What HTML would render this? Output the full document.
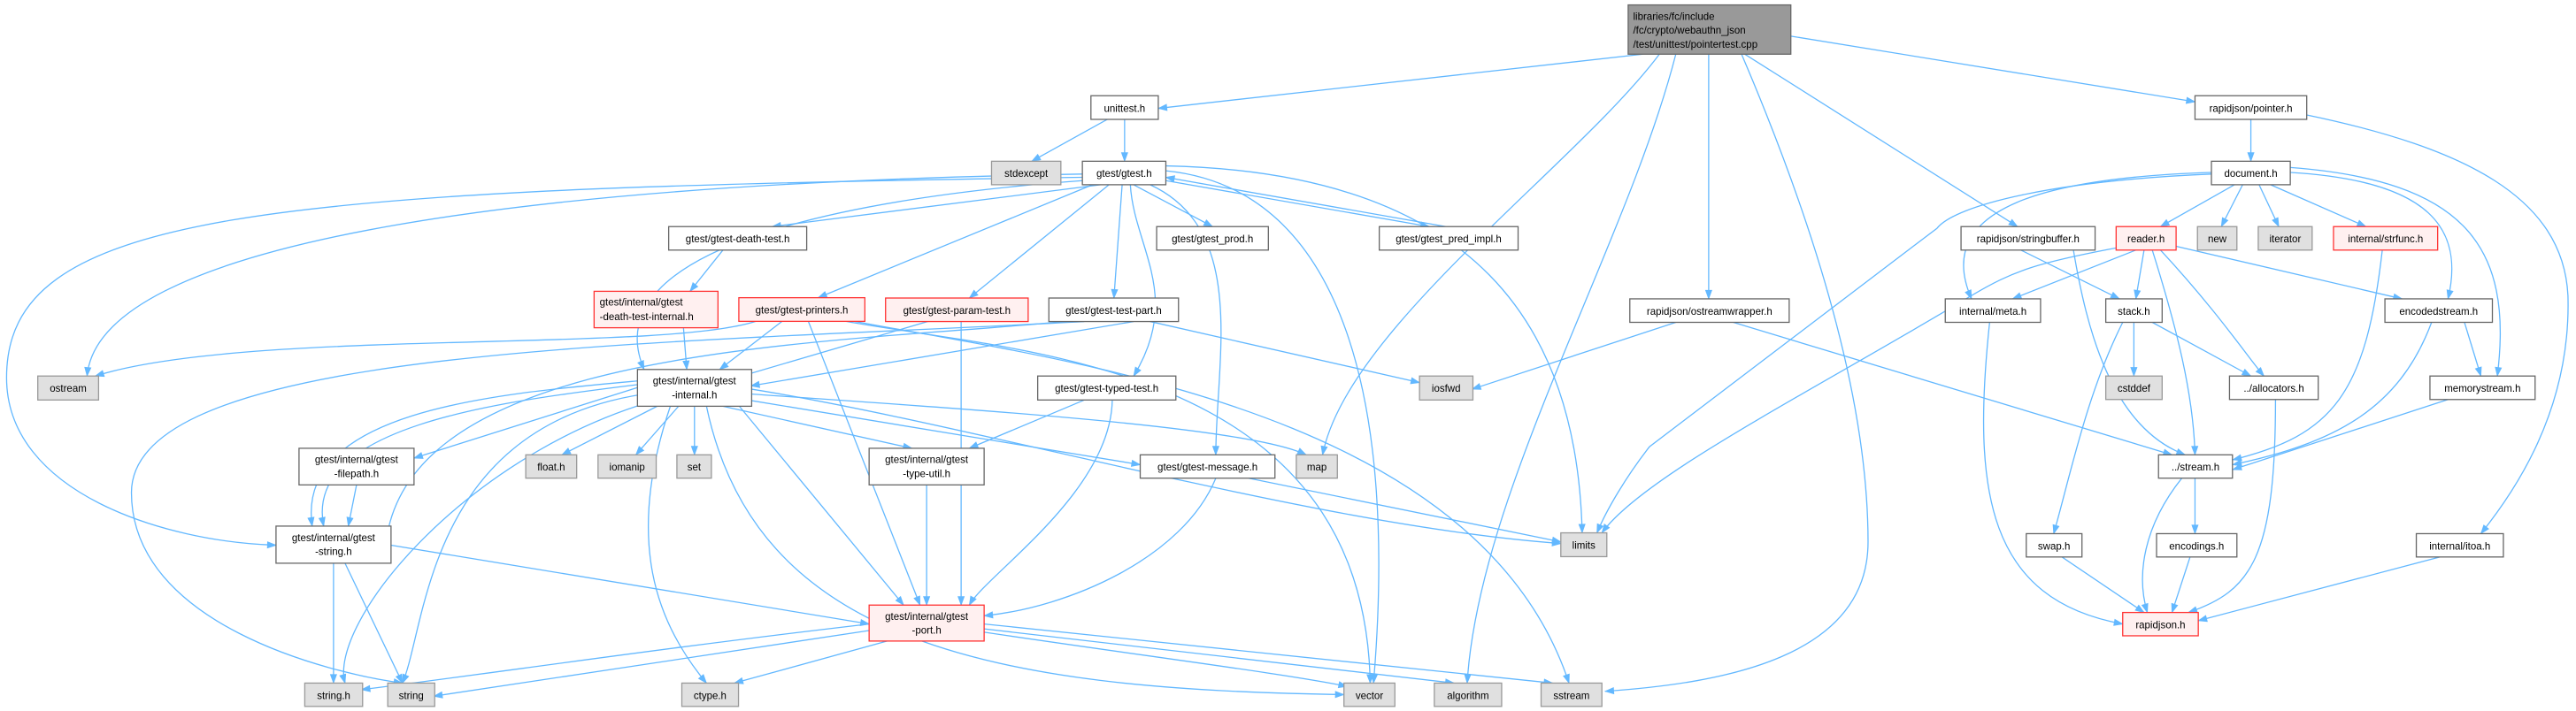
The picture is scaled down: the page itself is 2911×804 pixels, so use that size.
<!DOCTYPE html>
<html><head><meta charset="utf-8">
<style>
html,body{margin:0;padding:0;background:#fff;}
svg{display:block;}
text{font-family:"Liberation Sans",Arial,sans-serif;font-size:6.2px;fill:#000;}
</style></head>
<body>
<svg id="g" width="2911" height="804" viewBox="0 0 1567.9 433" preserveAspectRatio="none" xmlns="http://www.w3.org/2000/svg">
<g id="edges" fill="none" stroke="#63b8ff" stroke-width="0.7"></g>
<g id="arrows" fill="#63b8ff" stroke="#63b8ff" stroke-width="0.4"></g>
<g id="nodes" stroke-width="0.7">
<rect x="991" y="3" width="99" height="30" fill="#999" stroke="#666"/>
<text x="994" y="12">libraries/fc/include</text><text x="994" y="20.5">/fc/crypto/webauthn_json</text><text x="994" y="29">/test/unittest/pointertest.cpp</text>

<rect x="664" y="58.3" width="41" height="14.4" fill="#fff" stroke="#666"/><text x="684.5" y="68" text-anchor="middle">unittest.h</text>
<rect x="1336" y="58.3" width="68" height="14.4" fill="#fff" stroke="#666"/><text x="1370" y="68" text-anchor="middle">rapidjson/pointer.h</text>
<rect x="603.5" y="98.2" width="42.2" height="14.3" fill="#e0e0e0" stroke="#999"/><text x="624.6" y="107.8" text-anchor="middle">stdexcept</text>
<rect x="658.8" y="98.2" width="50.8" height="14.3" fill="#fff" stroke="#666"/><text x="684.2" y="107.8" text-anchor="middle">gtest/gtest.h</text>
<rect x="1346" y="98.2" width="48" height="14.3" fill="#fff" stroke="#666"/><text x="1370" y="107.8" text-anchor="middle">document.h</text>

<rect x="407" y="138" width="84" height="14.3" fill="#fff" stroke="#666"/><text x="449" y="147.6" text-anchor="middle">gtest/gtest-death-test.h</text>
<rect x="704" y="138" width="68" height="14.3" fill="#fff" stroke="#666"/><text x="738" y="147.6" text-anchor="middle">gtest/gtest_prod.h</text>
<rect x="839.5" y="138" width="84.5" height="14.3" fill="#fff" stroke="#666"/><text x="881.7" y="147.6" text-anchor="middle">gtest/gtest_pred_impl.h</text>
<rect x="1193.6" y="138" width="81.6" height="14.3" fill="#fff" stroke="#666"/><text x="1234.4" y="147.6" text-anchor="middle">rapidjson/stringbuffer.h</text>
<rect x="1288" y="138" width="36.5" height="14.3" fill="#fff0f0" stroke="#f33"/><text x="1306.2" y="147.6" text-anchor="middle">reader.h</text>
<rect x="1337.5" y="138" width="24" height="14.3" fill="#e0e0e0" stroke="#999"/><text x="1349.5" y="147.6" text-anchor="middle">new</text>
<rect x="1374.5" y="138" width="32.8" height="14.3" fill="#e0e0e0" stroke="#999"/><text x="1390.9" y="147.6" text-anchor="middle">iterator</text>
<rect x="1420.3" y="138" width="63.4" height="14.3" fill="#fff0f0" stroke="#f33"/><text x="1452" y="147.6" text-anchor="middle">internal/strfunc.h</text>

<rect x="361.6" y="177.4" width="75.4" height="22.2" fill="#fff0f0" stroke="#f33"/><text x="365" y="186.2">gtest/internal/gtest</text><text x="365" y="195">-death-test-internal.h</text>
<rect x="449.7" y="181.3" width="76.7" height="14.4" fill="#fff0f0" stroke="#f33"/><text x="488" y="190.9" text-anchor="middle">gtest/gtest-printers.h</text>
<rect x="539" y="181.5" width="86.8" height="14.3" fill="#fff0f0" stroke="#f33"/><text x="582.4" y="191.1" text-anchor="middle">gtest/gtest-param-test.h</text>
<rect x="638.4" y="181.5" width="78.9" height="14.3" fill="#fff" stroke="#666"/><text x="677.8" y="191.1" text-anchor="middle">gtest/gtest-test-part.h</text>
<rect x="992" y="182" width="97" height="14.3" fill="#fff" stroke="#666"/><text x="1040.5" y="191.6" text-anchor="middle">rapidjson/ostreamwrapper.h</text>
<rect x="1184" y="182" width="58" height="14.3" fill="#fff" stroke="#666"/><text x="1213" y="191.6" text-anchor="middle">internal/meta.h</text>
<rect x="1281.7" y="182" width="34.3" height="14.3" fill="#fff" stroke="#666"/><text x="1298.8" y="191.6" text-anchor="middle">stack.h</text>
<rect x="1451.6" y="182" width="65.4" height="14.3" fill="#fff" stroke="#666"/><text x="1484.3" y="191.6" text-anchor="middle">encodedstream.h</text>

<rect x="23" y="229" width="37" height="14.6" fill="#e0e0e0" stroke="#999"/><text x="41.5" y="238.7" text-anchor="middle">ostream</text>
<rect x="388" y="225" width="69.5" height="22.4" fill="#fff" stroke="#666"/><text x="422.7" y="234" text-anchor="middle">gtest/internal/gtest</text><text x="422.7" y="242.5" text-anchor="middle">-internal.h</text>
<rect x="631.6" y="229" width="84.1" height="14.6" fill="#fff" stroke="#666"/><text x="673.6" y="238.7" text-anchor="middle">gtest/gtest-typed-test.h</text>
<rect x="864" y="229" width="32.5" height="14.6" fill="#e0e0e0" stroke="#999"/><text x="880.2" y="238.7" text-anchor="middle">iosfwd</text>
<rect x="1281.7" y="229" width="34.3" height="14.3" fill="#e0e0e0" stroke="#999"/><text x="1298.8" y="238.6" text-anchor="middle">cstddef</text>
<rect x="1357" y="229" width="54" height="14.3" fill="#fff" stroke="#666"/><text x="1384" y="238.6" text-anchor="middle">../allocators.h</text>
<rect x="1479" y="229" width="64" height="14.3" fill="#fff" stroke="#666"/><text x="1511" y="238.6" text-anchor="middle">memorystream.h</text>

<rect x="182" y="273" width="70" height="22.3" fill="#fff" stroke="#666"/><text x="217" y="282" text-anchor="middle">gtest/internal/gtest</text><text x="217" y="290.5" text-anchor="middle">-filepath.h</text>
<rect x="320" y="277" width="31" height="14.2" fill="#e0e0e0" stroke="#999"/><text x="335.5" y="286.6" text-anchor="middle">float.h</text>
<rect x="364" y="277" width="35.4" height="14.2" fill="#e0e0e0" stroke="#999"/><text x="381.7" y="286.6" text-anchor="middle">iomanip</text>
<rect x="412" y="277" width="21" height="14.2" fill="#e0e0e0" stroke="#999"/><text x="422.5" y="286.6" text-anchor="middle">set</text>
<rect x="529" y="273" width="70" height="22.3" fill="#fff" stroke="#666"/><text x="564" y="282" text-anchor="middle">gtest/internal/gtest</text><text x="564" y="290.5" text-anchor="middle">-type-util.h</text>
<rect x="694" y="277" width="82" height="14.2" fill="#fff" stroke="#666"/><text x="735" y="286.6" text-anchor="middle">gtest/gtest-message.h</text>
<rect x="789" y="277" width="25" height="14.2" fill="#e0e0e0" stroke="#999"/><text x="801.5" y="286.6" text-anchor="middle">map</text>
<rect x="1313.8" y="277" width="45" height="14.2" fill="#fff" stroke="#666"/><text x="1336.3" y="286.6" text-anchor="middle">../stream.h</text>

<rect x="168" y="320.4" width="70" height="22.6" fill="#fff" stroke="#666"/><text x="203" y="329.5" text-anchor="middle">gtest/internal/gtest</text><text x="203" y="338" text-anchor="middle">-string.h</text>
<rect x="950" y="324.5" width="28" height="14.5" fill="#e0e0e0" stroke="#999"/><text x="964" y="334.1" text-anchor="middle">limits</text>
<rect x="1233.3" y="325" width="33.9" height="14.2" fill="#fff" stroke="#666"/><text x="1250.2" y="334.6" text-anchor="middle">swap.h</text>
<rect x="1312.6" y="325" width="48.9" height="14.2" fill="#fff" stroke="#666"/><text x="1337" y="334.6" text-anchor="middle">encodings.h</text>
<rect x="1470.7" y="325" width="53" height="14.2" fill="#fff" stroke="#666"/><text x="1497.2" y="334.6" text-anchor="middle">internal/itoa.h</text>

<rect x="529" y="368.5" width="70" height="21.9" fill="#fff0f0" stroke="#f33"/><text x="564" y="377.4" text-anchor="middle">gtest/internal/gtest</text><text x="564" y="386" text-anchor="middle">-port.h</text>
<rect x="1292" y="373" width="46" height="14.2" fill="#fff0f0" stroke="#f33"/><text x="1315" y="382.6" text-anchor="middle">rapidjson.h</text>

<rect x="185.5" y="416" width="35.2" height="14.2" fill="#e0e0e0" stroke="#999"/><text x="203.1" y="425.6" text-anchor="middle">string.h</text>
<rect x="236" y="416" width="28.6" height="14.2" fill="#e0e0e0" stroke="#999"/><text x="250.3" y="425.6" text-anchor="middle">string</text>
<rect x="415" y="416" width="34.5" height="14.2" fill="#e0e0e0" stroke="#999"/><text x="432.2" y="425.6" text-anchor="middle">ctype.h</text>
<rect x="818" y="416" width="31" height="14.2" fill="#e0e0e0" stroke="#999"/><text x="833.5" y="425.6" text-anchor="middle">vector</text>
<rect x="873" y="416" width="41" height="14.2" fill="#e0e0e0" stroke="#999"/><text x="893.5" y="425.6" text-anchor="middle">algorithm</text>
<rect x="938" y="416" width="37" height="14.2" fill="#e0e0e0" stroke="#999"/><text x="956.5" y="425.6" text-anchor="middle">sstream</text>
</g>
</svg>
<script>
(function(){
var E=[
"M1000,33 L705,66",
"M1090,22 L1336,62",
"M1040,33 L1040,182",
"M1062,33 L1228,138",
"M1010,33 C960,100 820,200 805,277",
"M1020,33 C990,150 900,300 893,416",
"M1060,33 C1110,150 1137,250 1137,330 C1137,400 1050,416 977,421",
"M674,72.7 L628,98.2",
"M684.5,72.7 L684.5,98.2",
"M658.8,106 C300,112 60,150 53,229",
"M658.8,108 C150,115 4,130 4,230 C4,300 100,330 168,332",
"M659,110 C520,120 360,150 392,225",
"M670,112.5 L470,138",
"M690,112.5 L738,138",
"M709.6,110 L870,138",
"M880,138 L709.6,108",
"M665,112.5 L498,181.3",
"M675,112.5 L590,181.5",
"M683,112.5 L678,181.5",
"M688,112.5 C690,150 720,180 690,229",
"M700,112.5 C760,140 740,220 740,277",
"M709.6,104 C820,115 850,250 836,416",
"M709.6,101 C900,105 960,200 963,324.5",
"M440,152.3 L420,177.4",
"M416,199.6 L418,225",
"M460,195.7 C400,215 150,200 58,229",
"M476,195.7 L438,225",
"M492,195.7 L560,368.5",
"M515,195.7 C620,215 830,220 834,416",
"M520,195.7 C650,220 900,250 955,416",
"M565,195.7 L448,230",
"M585,195.8 L585,368.5",
"M648,195.8 C500,210 250,210 235,330",
"M660,195.8 C400,210 80,210 80,300 C80,380 200,410 245,416",
"M690,195.8 L457,235",
"M700,195.8 L864,233",
"M660,243.6 L590,273",
"M677,243.6 C676,300 600,350 590,368.5",
"M388,236 L252,279",
"M400,247.4 L342,277",
"M413,247.4 L387,277",
"M422.7,247.4 L422.7,277",
"M440,247.4 L555,273",
"M457.5,244 L694,283",
"M457.5,240 C600,250 760,260 795,277",
"M457.5,237 C600,260 800,320 950,331",
"M450,247.4 L550,368.5",
"M388,232 C300,240 180,250 190,320.4",
"M390,234 C300,245 185,260 197,320.4",
"M392,240 C260,260 260,380 245,416",
"M395,245 C280,280 200,380 210,416",
"M408,247.4 C380,330 400,380 430,416",
"M430,247.4 C460,390 600,420 818,423",
"M217,295.3 L212,320.4",
"M564,295.3 L564,368.5",
"M740,291.2 C720,340 650,370 599,375",
"M760,291.2 L950,330",
"M238,332 L529,380",
"M203,343 L203,416",
"M210,343 L245,416",
"M529,380 C400,395 300,410 220,420",
"M529,384 L264,424",
"M540,390.4 L447,416",
"M599,385 C700,400 780,410 820,418",
"M599,383 L885,416",
"M599,380 L945,416",
"M1370,72.7 L1370,98.2",
"M1404,70 C1500,90 1560,120 1563,180 C1565,250 1530,300 1510,325",
"M1360,112.5 L1315,138",
"M1365,112.5 L1352,138",
"M1375,112.5 L1387,138",
"M1382,112.5 L1440,138",
"M1346,105 C1250,108 1175,125 1200,182",
"M1346,106 C1250,110 1190,125 1179,139 L1004,272 C990,290 978,310 972,324.5",
"M1394,105 C1480,110 1500,140 1490,182",
"M1394,102 C1500,110 1530,150 1520,229",
"M1288,151 C1240,160 1225,165 1200,180 C1100,240 1000,290 975,324.5",
"M1300,152.3 L1225,182",
"M1305,152.3 L1300,182",
"M1310,152.3 C1325,200 1335,240 1336,277",
"M1315,152.3 C1350,190 1370,220 1378,229",
"M1324.5,150 L1462,182",
"M1230,152.3 L1290,182",
"M1262,152.3 C1270,200 1285,260 1330,277",
"M1450,152.3 C1440,240 1420,265 1359,280",
"M1020,196.3 L896,237",
"M1055,196.3 L1322,277",
"M1211,196.3 C1200,300 1210,365 1292,380",
"M1298.8,196.3 L1298.8,229",
"M1310,196.3 L1370,229",
"M1292,196.3 C1270,240 1260,290 1250,325",
"M1500,196.3 L1510,229",
"M1480,196.3 C1460,250 1420,270 1359,283",
"M1490,243.3 L1359,286",
"M1385,243.3 C1385,340 1370,360 1332,373",
"M1336,291.2 L1336,325",
"M1328,291.2 C1305,320 1300,350 1307,373",
"M1255,339.2 L1305,373",
"M1333,339.2 L1322,373",
"M1485,339.2 L1338,378"
];
var ns="http://www.w3.org/2000/svg";
var eg=document.getElementById("edges"),ag=document.getElementById("arrows");
E.forEach(function(d){
  var p=document.createElementNS(ns,"path");p.setAttribute("d",d);eg.appendChild(p);
  var nums=d.match(/-?[\d.]+/g).map(Number);
  var n=nums.length,ex=nums[n-2],ey=nums[n-1],px=nums[n-4],py=nums[n-3];
  var dx=ex-px,dy=ey-py,l=Math.sqrt(dx*dx+dy*dy)||1;dx/=l;dy/=l;
  var L=5.2,W=1.9,bx=ex-dx*L,by=ey-dy*L;
  var t=document.createElementNS(ns,"polygon");
  t.setAttribute("points",ex+","+ey+" "+(bx-dy*W)+","+(by+dx*W)+" "+(bx+dy*W)+","+(by-dx*W));
  ag.appendChild(t);
});
})();
</script>
</body></html>
